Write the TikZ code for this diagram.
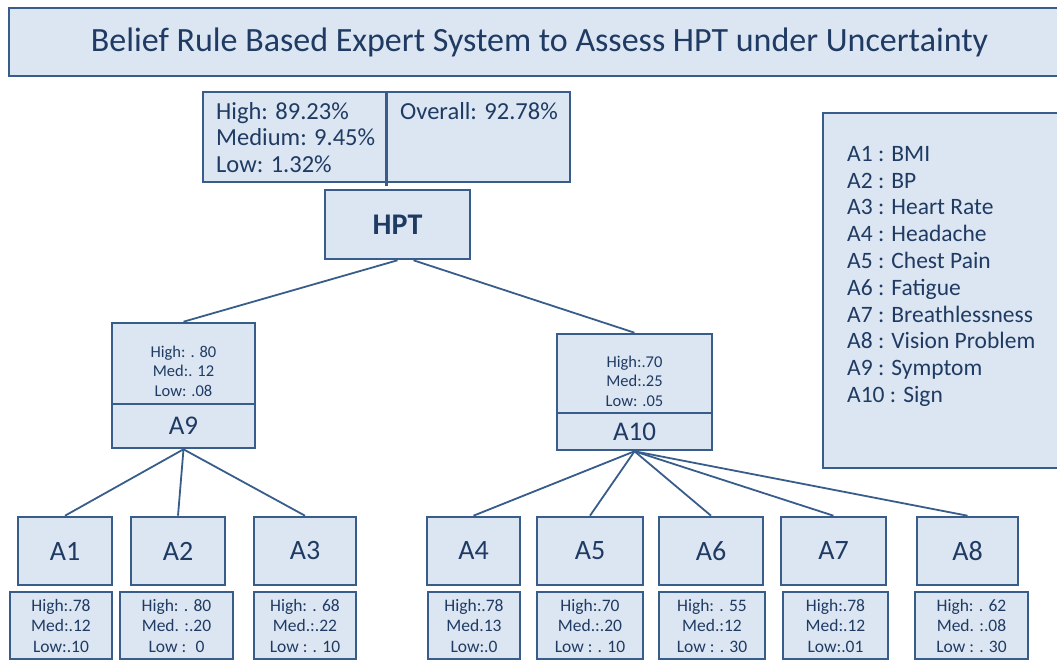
\documentclass[tikz,border=0pt]{standalone}
\usepackage{fontspec}
\setmainfont{Carlito}
\usetikzlibrary{positioning}

\definecolor{boxfill}{HTML}{DCE6F2}
\definecolor{boxline}{HTML}{385D8A}
\definecolor{txt}{HTML}{1F3B63}

\begin{document}
\begin{tikzpicture}[x=1pt, y=-1pt, every node/.style={text=txt, inner sep=0pt}, box/.style={draw=boxline, line width=2.6pt, fill=boxfill}, attr/.style={box, minimum height=68pt, font=\fontsize{28}{30}\selectfont}, vals/.style={box, minimum height=67pt, align=center, font=\fontsize{17.5}{20.5}\selectfont}, small/.style={align=center, font=\fontsize{16.5}{19.5}\selectfont}, link/.style={draw=boxline, line width=1.8pt}]
	\clip (0,0) rectangle (1057,661);
	\node[box, minimum width=1061pt, minimum height=68pt, font=\fontsize{34}{40}\selectfont] (title) at (539.5,42) {Belief Rule Based Expert System to Assess HPT under Uncertainty};
	% result of the assessment
	\node[box, minimum width=367pt, minimum height=90pt] (res) at (386.5,137) {};
	\draw[boxline, line width=2.6pt] (res.north) -- ([yshift=-3pt]res.south);
	\node[anchor=north west, align=left, font=\fontsize{24.5}{26.5}\selectfont] (grades) at (216,102) {High: 89.23\%\\Medium: 9.45\%\\Low: 1.32\%};
	\node[anchor=north west, font=\fontsize{24.5}{26.5}\selectfont] (overall) at (400,102) {Overall: 92.78\%};
	\node[box, minimum width=145pt, minimum height=69pt, font=\bfseries\fontsize{30}{32}\selectfont] (hpt) at (397.5,224.5) {HPT};
	% symptom and sign
	\node[box, minimum width=143pt, minimum height=81pt] (a9top) at (183.5,363.5) {};
	\node[small] (a9val) at (183.5,371) {High: . 80\\Med:. 12\\Low: .08};
	\node[box, minimum width=143pt, minimum height=44pt, font=\fontsize{27}{30}\selectfont] (a9) at (183.5,426) {A9};
	\node[box, minimum width=155pt, minimum height=79pt] (a10top) at (634.5,373.5) {};
	\node[small] (a10val) at (634.5,381) {High:.70\\Med:.25\\Low: .05};
	\node[box, minimum width=155pt, minimum height=37pt, font=\fontsize{27}{30}\selectfont] (a10) at (634.5,431.5) {A10};
	% antecedent attributes
	\node[attr, minimum width=94pt] (a1) at (65,551) {A1};
	\node[attr, minimum width=94pt] (a2) at (178,551) {A2};
	\node[attr, minimum width=102pt] (a3) at (305,551) {A3};
	\node[attr, minimum width=93pt] (a4) at (473.5,551) {A4};
	\node[attr, minimum width=106pt] (a5) at (590,551) {A5};
	\node[attr, minimum width=104pt] (a6) at (711,551) {A6};
	\node[attr, minimum width=105pt] (a7) at (833.5,551) {A7};
	\node[attr, minimum width=101pt] (a8) at (967.5,551) {A8};
	\node[vals, minimum width=102pt] (v1) at (61,625.5) {High:.78\\Med:.12\\Low:.10};
	\node[vals, minimum width=113pt] (v2) at (176.5,625.5) {High: . 80\\Med. :.20\\Low : \ 0};
	\node[vals, minimum width=102pt] (v3) at (305,625.5) {High: . 68\\Med.:.22\\Low : . 10};
	\node[vals, minimum width=92pt] (v4) at (474,625.5) {High:.78\\Med.13\\Low:.0};
	\node[vals, minimum width=106pt] (v5) at (590,625.5) {High:.70\\Med.:.20\\Low : . 10};
	\node[vals, minimum width=106pt] (v6) at (712,625.5) {High: . 55\\Med.:12\\Low : . 30};
	\node[vals, minimum width=105pt] (v7) at (835.5,625.5) {High:.78\\Med:.12\\Low:.01};
	\node[vals, minimum width=113pt] (v8) at (971.5,625.5) {High: . 62\\Med. :.08\\Low : . 30};
	% legend
	\node[box, minimum width=247pt, minimum height=355pt] (legend) at (946.5,290.5) {};
	\node[anchor=north west, align=left, font=\fontsize{23.5}{26.8}\selectfont] (names) at (847,146) {A1 : BMI\\A2 : BP\\A3 : Heart Rate\\A4 : Headache\\A5 : Chest Pain\\A6 : Fatigue\\A7 : Breathlessness\\A8 : Vision Problem\\A9 : Symptom\\A10 : Sign};
	\draw[link] (hpt.south) -- (a9top.north);
	\draw[link] ([xshift=16pt]hpt.south) -- (a10top.north);
	\draw[link] (a9.south) -- (a1.north);
	\draw[link] (a9.south) -- (a2.north);
	\draw[link] (a9.south) -- (a3.north);
	\draw[link] (a10.south) -- (a4.north);
	\draw[link] (a10.south) -- (a5.north);
	\draw[link] (a10.south) -- (a6.north);
	\draw[link] (a10.south) -- (a7.north);
	\draw[link] (a10.south) -- (a8.north);
\end{tikzpicture}
\end{document}
